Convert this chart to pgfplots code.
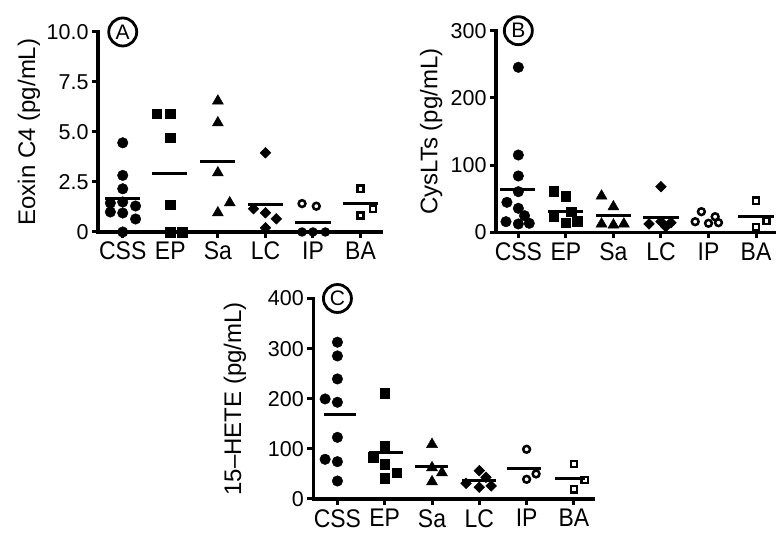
\documentclass[border=0pt]{standalone}
\usepackage{fontspec}
\setmainfont{Liberation Sans}
\newfontfamily\narrowsf[FakeStretch=0.9]{Liberation Sans}
\usepackage{pgfplots}
\pgfplotsset{compat=1.18}

% 1 px of the reference = 1 pt here
\pgfplotsset{
  panel/.style={
    scale only axis, clip=false,
    axis x line*=bottom, axis y line*=left,
    axis line style={-, line width=3.3pt, line cap=rect},
    tick align=outside, major tick length=6pt,
    every tick/.style={line width=3pt, black},
    xtick={0,...,5}, xticklabels={CSS,EP,Sa,LC,IP,BA},
    xticklabel style={font=\narrowsf\fontsize{25.5}{25.5}\selectfont, anchor=north, inner sep=0pt, yshift=-4pt},
    yticklabel style={font=\fontsize{21.5}{21.5}\selectfont},
    ylabel style={font=\fontsize{24}{24}\selectfont, anchor=center},
    ymin=0,
  },
  fcirc/.style={only marks, mark=*, mark size=5.3pt, mark options={fill=black, draw=black, line width=0.4pt}},
  fsq/.style={only marks, mark=square*, mark size=4.8pt, mark options={fill=black, draw=black, line width=0.4pt}},
  ftri/.style={only marks, mark=triangle*, mark size=6.4pt, mark options={fill=black, draw=black, line width=0.4pt}},
  fdia/.style={only marks, mark=square*, mark size=3.8pt, mark options={fill=black, draw=black, line width=0.4pt, rotate=45}},
  ocirc/.style={only marks, mark=o, mark size=3.4pt, mark options={draw=black, line width=2.5pt}},
  osq/.style={only marks, mark=square, mark size=3.1pt, mark options={draw=black, line width=2.5pt}},
  mean/.style={no marks, line width=3pt, black},
}
\tikzset{tag/.style={circle, draw, line width=2.8pt, minimum size=28pt, inner sep=0pt, fill=white, font=\fontsize{21}{21}\selectfont}}

\begin{document}
\begin{tikzpicture}
\path[use as bounding box] (0,0) rectangle (776pt,534pt);

% ---- A: Eoxin C4
\begin{axis}[panel, at={(98pt,302pt)}, anchor=south west, width=283pt, height=200pt,
  xmin=-0.52, xmax=5.43, ymax=10,
  ytick={0,2.5,5,7.5,10}, yticklabels={0,2.5,5.0,7.5,10.0},
  ylabel={Eoxin C4 (pg/mL)}, ylabel style={at={(axis description cs:-0.244,0.5)}}]
\addplot[fcirc] coordinates {(0,4.46)(0,2.83)(0,2.16)(-0.26,1.45)(0,1.5)(0.27,1.3)(-0.26,1.0)(0,0.95)(0.27,0.65)(0,0)};
\addplot[fsq] coordinates {(0.71,5.92)(1,5.92)(1,4.71)(1,1.37)(1,0)(1.25,0)};
\addplot[ftri] coordinates {(2,6.55)(2,5.46)(2,2.96)(2,0.96)(2.25,1.46)};
\addplot[fdia] coordinates {(3,3.96)(2.75,1.16)(3,0.96)(3.23,0.66)(3,0.21)};
\addplot[ocirc] coordinates {(3.77,1.42)(4.07,1.29)(3.77,0)(4,0)(4.26,0)};
\addplot[osq] coordinates {(5,2.16)(5,0.82)(5.26,1.16)};
\addplot[mean] coordinates {(-0.38,1.66)(0.36,1.66)};
\addplot[mean] coordinates {(0.62,2.92)(1.36,2.92)};
\addplot[mean] coordinates {(1.63,3.51)(2.37,3.51)};
\addplot[mean] coordinates {(2.63,1.37)(3.37,1.37)};
\addplot[mean] coordinates {(3.63,0.49)(4.37,0.49)};
\addplot[mean] coordinates {(4.63,1.42)(5.37,1.42)};
\node[tag] at (axis cs:0,10) {A};
\end{axis}

% ---- B: CysLTs
\begin{axis}[panel, at={(496pt,301.7pt)}, anchor=south west, width=280pt, height=201.6pt,
  xmin=-0.47, xmax=5.42, ymax=300,
  ytick={0,100,200,300}, yticklabels={0,100,200,300},
  ylabel={CysLTs (pg/mL)}, ylabel style={at={(axis description cs:-0.232,0.5)}}]
\addplot[fcirc] coordinates {(0,245.5)(0,115)(0,83.8)(0,60.4)(-0.24,44.6)(0,35.7)(0.13,24.7)(-0.26,15.8)(0,12.4)(0.23,13.4)};
\addplot[fsq] coordinates {(0.74,61.5)(1,54)(0.74,24.3)(1.11,30.7)(1,14.3)(1.24,16.8)};
\addplot[ftri] coordinates {(1.75,54)(2,38)(1.75,12.4)(2,10.9)(2.22,12.4)};
\addplot[fdia] coordinates {(3,67.9)(2.75,12.4)(3,15.8)(3.21,14.3)(3.1,8.3)};
\addplot[ocirc] coordinates {(3.85,30.7)(3.72,15.8)(4,13.4)(4.14,23.2)(4.21,14.3)};
\addplot[osq] coordinates {(5,47)(5.22,17.3)(5,7.4)};
\addplot[mean] coordinates {(-0.38,64)(0.34,64)};
\addplot[mean] coordinates {(0.63,30.7)(1.37,30.7)};
\addplot[mean] coordinates {(1.63,24.3)(2.37,24.3)};
\addplot[mean] coordinates {(2.63,22.3)(3.37,22.3)};
\addplot[mean] coordinates {(4.63,23.2)(5.37,23.2)};
\node[tag] at (axis cs:0,300) {B};
\end{axis}

% ---- C: 15-HETE
\begin{axis}[panel, at={(313.3pt,35pt)}, anchor=south west, width=280pt, height=200.5pt,
  xmin=-0.51, xmax=5.41, ymax=400,
  ytick={0,100,200,300,400}, yticklabels={0,100,200,300,400},
  ylabel={15–HETE (pg/mL)}, ylabel style={at={(axis description cs:-0.28,0.5)}}]
\addplot[fcirc] coordinates {(0,312.8)(0,285.4)(0,239.5)(-0.26,199.6)(0,193)(0,123)(-0.26,79.2)(0,74.5)(0,35.9)};
\addplot[fsq] coordinates {(1,211)(1,106.4)(0.76,83.2)(1,69.9)(1.25,52.5)(1,41.3)};
\addplot[ftri] coordinates {(2,109)(2,62.5)(2.21,52.5)(2,34.5)};
\addplot[fdia] coordinates {(3,56.5)(2.72,31.3)(3.14,43.3)(3,23.4)(3.25,26)};
\addplot[ocirc] coordinates {(4,99.2)(4,39.3)(4.2,50)};
\addplot[osq] coordinates {(5,69.9)(5.23,37.9)(5,19.4)};
\addplot[mean] coordinates {(-0.28,168.3)(0.4,168.3)};
\addplot[mean] coordinates {(0.67,92.4)(1.39,92.4)};
\addplot[mean] coordinates {(1.63,64.5)(2.34,64.5)};
\addplot[mean] coordinates {(2.64,36)(3.36,36)};
\addplot[mean] coordinates {(3.59,60.5)(4.3,60.5)};
\addplot[mean] coordinates {(4.6,41.3)(5.23,41.3)};
\node[tag] at (axis cs:0,400) {C};
\end{axis}
\end{tikzpicture}
\end{document}
